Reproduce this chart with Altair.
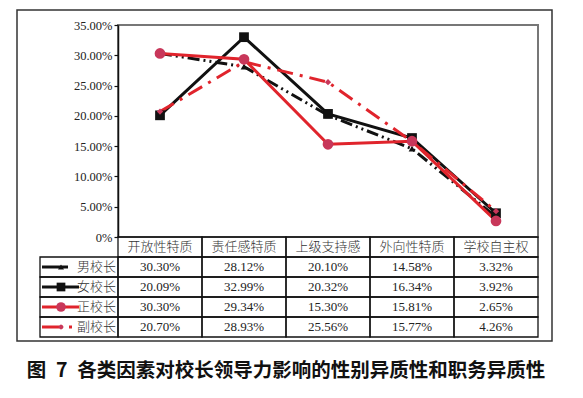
import altair as alt
import pandas as pd

# ---------------- data ----------------
categories = ["开放性特质", "责任感特质", "上级支持感", "外向性特质", "学校自主权"]
series_names = ["男校长", "女校长", "正校长", "副校长"]
male = [30.30, 28.12, 20.10, 14.58, 3.32]
female = [20.09, 32.99, 20.32, 16.34, 3.92]
principal = [30.30, 29.34, 15.30, 15.81, 2.65]
vice = [20.70, 28.93, 25.56, 15.77, 4.26]
y_ticks = [0, 5, 10, 15, 20, 25, 30, 35]
title_text = "图\u20027\u2002各类因素对校长领导力影响的性别异质性和职务异质性"

series_values = {"男校长": male, "女校长": female, "正校长": principal, "副校长": vice}

long_df = pd.DataFrame(
    [{"cat": c, "series": s, "value": v}
     for s in series_names for c, v in zip(categories, series_values[s])]
)

rows = ["header"] + series_names
cell_records = [{"cat": c, "row": "header", "label": c} for c in categories]
for s in series_names:
    for c, v in zip(categories, series_values[s]):
        cell_records.append({"cat": c, "row": s, "label": f"{v:.2f}%"})
cells_df = pd.DataFrame(cell_records)
label_df = pd.DataFrame({"row": series_names})

# ---------------- styles ----------------
BLACK = "#111111"
RED = "#e0242c"
PINK = "#c8375a"
styles = {
    "男校长": dict(color=BLACK, dash=[12, 4, 2, 4, 2, 4], shape="triangle-up", size=45, fill=BLACK, sw_end=-50),
    "女校长": dict(color=BLACK, dash=None, shape="square", size=95, fill=BLACK, sw_end=-39),
    "正校长": dict(color=RED, dash=None, shape="circle", size=115, fill=PINK, sw_end=-39),
    "副校长": dict(color=RED, dash=[16, 7, 3, 7], shape="diamond", size=40, fill=PINK, sw_end=-44),
}
draw_order = ["男校长", "女校长", "副校长", "正校长"]

W, H = 420, 212
ROW_H = 20
TABLE_TOP = H
TABLE_BOTTOM = H + ROW_H * len(rows)
SERIF = "Liberation Serif"
CJK = "Noto Sans CJK SC"

# ---------------- line chart ----------------
x_line = alt.X("cat:N", sort=categories,
               scale=alt.Scale(type="point", domain=categories, padding=0.5), axis=None)
y_line = alt.Y(
    "value:Q",
    scale=alt.Scale(domain=[0, 35], nice=False),
    axis=alt.Axis(
        values=y_ticks,
        labelExpr="datum.value == 0 ? '0%' : format(datum.value, '.2f') + '%'",
        title=None, grid=False,
        labelFont=SERIF, labelFontSize=12.5, labelColor="#222222",
        tickSize=4, tickColor=BLACK, tickWidth=1.2,
        domainColor=BLACK, domainWidth=1.5, labelPadding=2,
    ),
)

base = alt.Chart(long_df)
line_layers = []
for s in draw_order:
    st = styles[s]
    line_kw = dict(color=st["color"], strokeWidth=3)
    if st["dash"]:
        line_kw["strokeDash"] = st["dash"]
    line_layers.append(
        base.transform_filter(alt.datum.series == s).mark_line(**line_kw).encode(x=x_line, y=y_line)
    )
for s in draw_order:
    st = styles[s]
    line_layers.append(
        base.transform_filter(alt.datum.series == s)
        .mark_point(shape=st["shape"], size=st["size"], filled=True, color=st["fill"], opacity=1)
        .encode(x=x_line, y=y_line)
    )
line_chart = alt.layer(*line_layers)

# ---------------- table ----------------
x_tab = alt.X("cat:N", sort=categories,
              scale=alt.Scale(type="band", domain=categories, paddingInner=0, paddingOuter=0), axis=None)
x_tab_c = alt.X("cat:N", sort=categories, bandPosition=0.5,
                scale=alt.Scale(type="band", domain=categories, paddingInner=0, paddingOuter=0), axis=None)
y_scale = alt.Scale(type="band", domain=rows, range=[TABLE_TOP, TABLE_BOTTOM], paddingInner=0, paddingOuter=0)
y_tab = alt.Y("row:N", sort=rows, scale=y_scale, axis=None)
y_tab_c = alt.Y("row:N", sort=rows, bandPosition=0.5, scale=y_scale, axis=None)

cells = alt.Chart(cells_df)
cell_boxes = cells.mark_rect(fillOpacity=0, stroke=BLACK, strokeWidth=1.3).encode(x=x_tab, y=y_tab)
header_text = cells.transform_filter(alt.datum.row == "header").mark_text(
    font=CJK, fontSize=13, color="#333333", fontWeight=300).encode(x=x_tab_c, y=y_tab_c, text="label:N")
value_text = cells.transform_filter(alt.datum.row != "header").mark_text(
    font=SERIF, fontSize=13, color="#222222").encode(x=x_tab_c, y=y_tab_c, text="label:N")

labs = alt.Chart(label_df)
label_boxes = labs.mark_rect(fillOpacity=0, stroke=BLACK, strokeWidth=1.3).encode(
    x=alt.value(-78), x2=alt.value(0), y=y_tab)
label_text = labs.mark_text(font=CJK, fontSize=13, align="right", color="#333333", fontWeight=300).encode(
    x=alt.value(-2), y=y_tab_c, text="row:N")

swatches = []
for s in series_names:
    st = styles[s]
    rule_kw = dict(color=st["color"], strokeWidth=3)
    if st["dash"] and s == "副校长":
        rule_kw["strokeDash"] = [21, 6, 3, 20]
    swatches.append(
        labs.transform_filter(alt.datum.row == s).mark_rule(**rule_kw).encode(
            x=alt.value(-76), x2=alt.value(st["sw_end"]), y=y_tab_c)
    )
    swatches.append(
        labs.transform_filter(alt.datum.row == s)
        .mark_point(shape=st["shape"], size=st["size"] * 0.8, filled=True, color=st["fill"], opacity=1)
        .encode(x=alt.value(-57), y=y_tab_c)
    )

table_chart = alt.layer(cell_boxes, header_text, value_text, label_boxes, label_text, *swatches)

# ---------------- outer frame ----------------
frame = alt.Chart(pd.DataFrame({"f": [0]})).mark_rect(
    fillOpacity=0, stroke="#333333", strokeWidth=1.5).encode(
    x=alt.value(-101), x2=alt.value(434), y=alt.value(-15), y2=alt.value(TABLE_BOTTOM + 4))

chart = (
    alt.layer(line_chart, table_chart, frame)
    .resolve_scale(x="independent", y="independent")
    .properties(
        width=W, height=H,
        padding={"left": 8, "top": 1, "right": 5, "bottom": 5},
        title=alt.TitleParams(title_text, orient="bottom", anchor="middle", font=CJK,
                              fontSize=19.5, fontWeight="bold", color="#111111", offset=20, dx=-42),
    )
    .configure_view(stroke="#777777", strokeWidth=2)
)

chart.save("out.html", embed_options={"renderer": "svg", "actions": False})
